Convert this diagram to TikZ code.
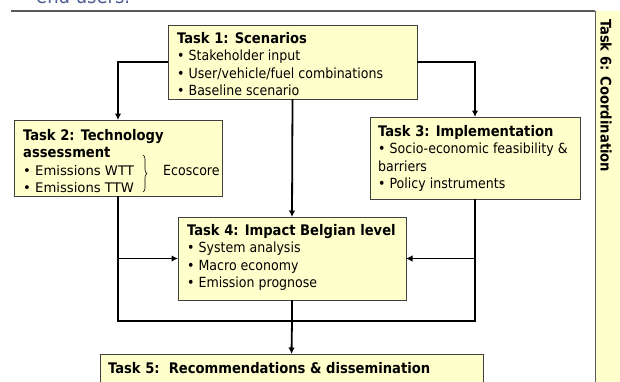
\documentclass[tikz,border=0pt]{standalone}
\usepackage{fontspec}
\setmainfont{DejaVu Sans Condensed}
\newfontfamily\verdf{DejaVu Sans}
\usetikzlibrary{arrows.meta,decorations.pathreplacing,calc}
\definecolor{boxfill}{RGB}{255,255,204}
\definecolor{boxline}{RGB}{64,64,64}
\definecolor{rulegray}{RGB}{90,90,90}
\definecolor{headblue}{RGB}{80,96,150}
\newcommand\tbf[1]{{\fontsize{14.6}{17.5}\selectfont\bfseries #1}}
\begin{document}
\begin{tikzpicture}[x=1pt,y=-1pt,
  box/.style={draw=boxline, fill=boxfill, line width=0.8pt, anchor=north west, inner sep=0pt, outer sep=0pt},
  txt/.style={anchor=north west, inner sep=0pt, align=left, font=\fontsize{14}{17.5}\selectfont},
  conn/.style={line width=1.8pt, black},
  arr/.style={conn, -{Latex[length=6.5pt,width=6.5pt]}}]
\useasboundingbox (0,0) rectangle (620,381);
% header remnant
\node[anchor=base west, text=headblue, font=\fontsize{20}{24}\selectfont, inner sep=0pt] (hdr) at (36,3) {end users.};
% task 6 column and rule
\node[box, draw=none, minimum width=30pt, minimum height=380pt] (t6) at (595,11) {};
\draw[rulegray, line width=1pt] (t6.north west) -- (t6.south west);
\coordinate (rl) at (11,11);
\draw[rulegray, line width=1.5pt] (rl) -- (t6.north west);
\node[rotate=-90, anchor=west, inner sep=0pt, font=\bfseries\fontsize{14.6}{16}\selectfont] (t6txt) at (606,19) {Task 6: Coordination};
% boxes
\node[box, minimum width=249pt, minimum height=74pt] (t1) at (168,25) {};
\node[box, minimum width=208pt, minimum height=76pt] (t2) at (14,120) {};
\node[box, minimum width=210pt, minimum height=82pt] (t3) at (370,117) {};
\node[box, minimum width=228pt, minimum height=83pt] (t4) at (178,217) {};
\node[box, minimum width=383pt, minimum height=30pt] (t5) at (100,354) {};
% texts
\node[txt] (t1txt) at (177,32) {\rule{0pt}{11pt}\tbf{Task 1: Scenarios}\\• Stakeholder input\\• User/vehicle/fuel combinations\\• Baseline scenario};
\node[txt] (t2txt) at (23,129) {\rule{0pt}{11pt}\tbf{Task 2: Technology}\\\tbf{assessment}\\{\verdf\fontsize{13.2}{17.5}\selectfont • Emissions WTT}\\{\verdf\fontsize{13.2}{17.5}\selectfont • Emissions TTW}};
\node[anchor=base west, inner sep=0pt, font=\fontsize{14}{17.5}\selectfont] (eco) at (163,175) {Ecoscore};
\coordinate (bra) at (143,155);
\coordinate (brb) at (143,192);
\draw[decorate, decoration={brace, amplitude=4pt}, line width=0.6pt] (bra) -- (brb);
\node[txt] (t3txt) at (378,125) {\rule{0pt}{11pt}\tbf{Task 3: Implementation}\\• Socio-economic feasibility \&\\barriers\\• Policy instruments};
\node[txt] (t4txt) at (187,224) {\rule{0pt}{11pt}\tbf{Task 4: Impact Belgian level}\\• System analysis\\• Macro economy\\• Emission prognose};
\node[txt] (t5txt) at (108,362) {\rule{0pt}{11pt}\tbf{Task 5:\ \ Recommendations \& dissemination}};
% connectors
\draw[arr] (t1.west) -| (t2.north);
\draw[arr] (t1.east) -| (t3.north);
\draw[arr] (t1.south) -- (t4.north);
\draw[arr] (t2.south |- t4.west) -- (t4.west);
\draw[arr] (t3.south |- t4.east) -- (t4.east);
\coordinate (j) at (292,321);
\draw[conn] (t2.south) |- (j) -| (t3.south);
\draw[conn] (t4.south) -- (j);
\draw[arr] (j) -- (t5.north);
\end{tikzpicture}
\end{document}
